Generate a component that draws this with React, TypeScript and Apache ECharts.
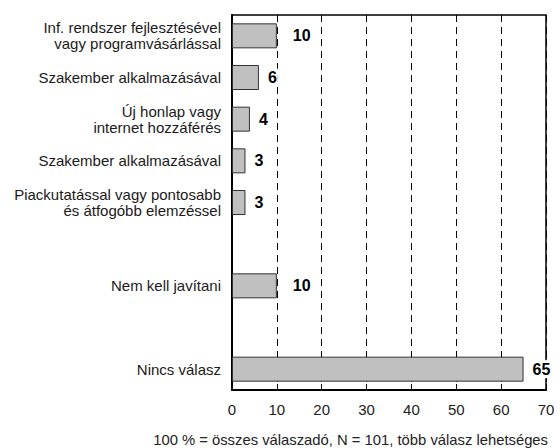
import React, { useEffect, useRef } from "react";
import * as echarts from "echarts";

const categories = [
  "Inf. rendszer fejlesztésével\nvagy programvásárlással",
  "Szakember alkalmazásával",
  "Új honlap vagy\ninternet hozzáférés",
  "Szakember alkalmazásával",
  "Piackutatással vagy pontosabb\nés átfogóbb elemzéssel",
  "",
  "Nem kell javítani",
  "",
  "Nincs válasz",
];
const values: (number | null)[] = [10, 6, 4, 3, 3, null, 10, null, 65];
const xTicks = [0, 10, 20, 30, 40, 50, 60, 70];
const footnote = "100 % = összes válaszadó, N = 101, több válasz lehetséges";

export default function App() {
  const ref = useRef<HTMLDivElement>(null);
  useEffect(() => {
    if (!ref.current) return;
    const chart = echarts.init(ref.current, null, { renderer: "svg" });
    const data = values.map((v) =>
      v === null
        ? "-"
        : {
            value: v,
            label: { distance: v >= 10 && v < 60 ? 15 : 8 },
          }
    );
    chart.setOption({
      animation: false,
      backgroundColor: "#ffffff",
      grid: {
        left: 232,
        right: 14,
        top: 15,
        bottom: 58,
        show: true,
        borderColor: "#000",
        borderWidth: 1.5,
        backgroundColor: "transparent",
      },
      xAxis: {
        type: "value",
        min: xTicks[0],
        max: xTicks[xTicks.length - 1],
        interval: 10,
        axisLine: { show: true, lineStyle: { color: "#000", width: 2 } },
        axisTick: { show: true, inside: true, length: 6, lineStyle: { color: "#000", width: 1 } },
        axisLabel: {
          margin: 12,
          fontFamily: "Arial, Liberation Sans, sans-serif",
          fontSize: 15,
          color: "#222",
        },
        splitLine: {
          show: true,
          lineStyle: { color: "#000", width: 1, type: [7, 5] },
        },
      },
      yAxis: {
        type: "category",
        inverse: true,
        data: categories,
        axisLine: { show: true, onZero: false, lineStyle: { color: "#000", width: 2 } },
        axisTick: { show: false },
        axisLabel: {
          margin: 11,
          fontFamily: "Arial, Liberation Sans, sans-serif",
          fontSize: 15,
          lineHeight: 16,
          color: "#1a1a1a",
          align: "right",
        },
        splitLine: { show: false },
      },
      series: [
        {
          type: "bar",
          data,
          barWidth: 25,
          itemStyle: { color: "#c0c0c0", borderColor: "#333", borderWidth: 1 },
          z: 3,
          label: {
            show: true,
            position: "right",
            fontFamily: "Arial, Liberation Sans, sans-serif",
            fontSize: 16,
            fontWeight: "bold",
            color: "#000",
            backgroundColor: "#ffffff",
            padding: [1, 1],
          },
        },
      ],
      graphic: [
        {
          type: "text",
          right: 12,
          top: 432,
          style: {
            text: footnote,
            fontFamily: "Arial, Liberation Sans, sans-serif",
            fontSize: 14.8,
            fill: "#222",
          },
        },
      ],
    });
    return () => chart.dispose();
  }, []);
  return <div ref={ref} style={{ width: 560, height: 448, position: "fixed", left: 0, top: 0 }} />;
}
